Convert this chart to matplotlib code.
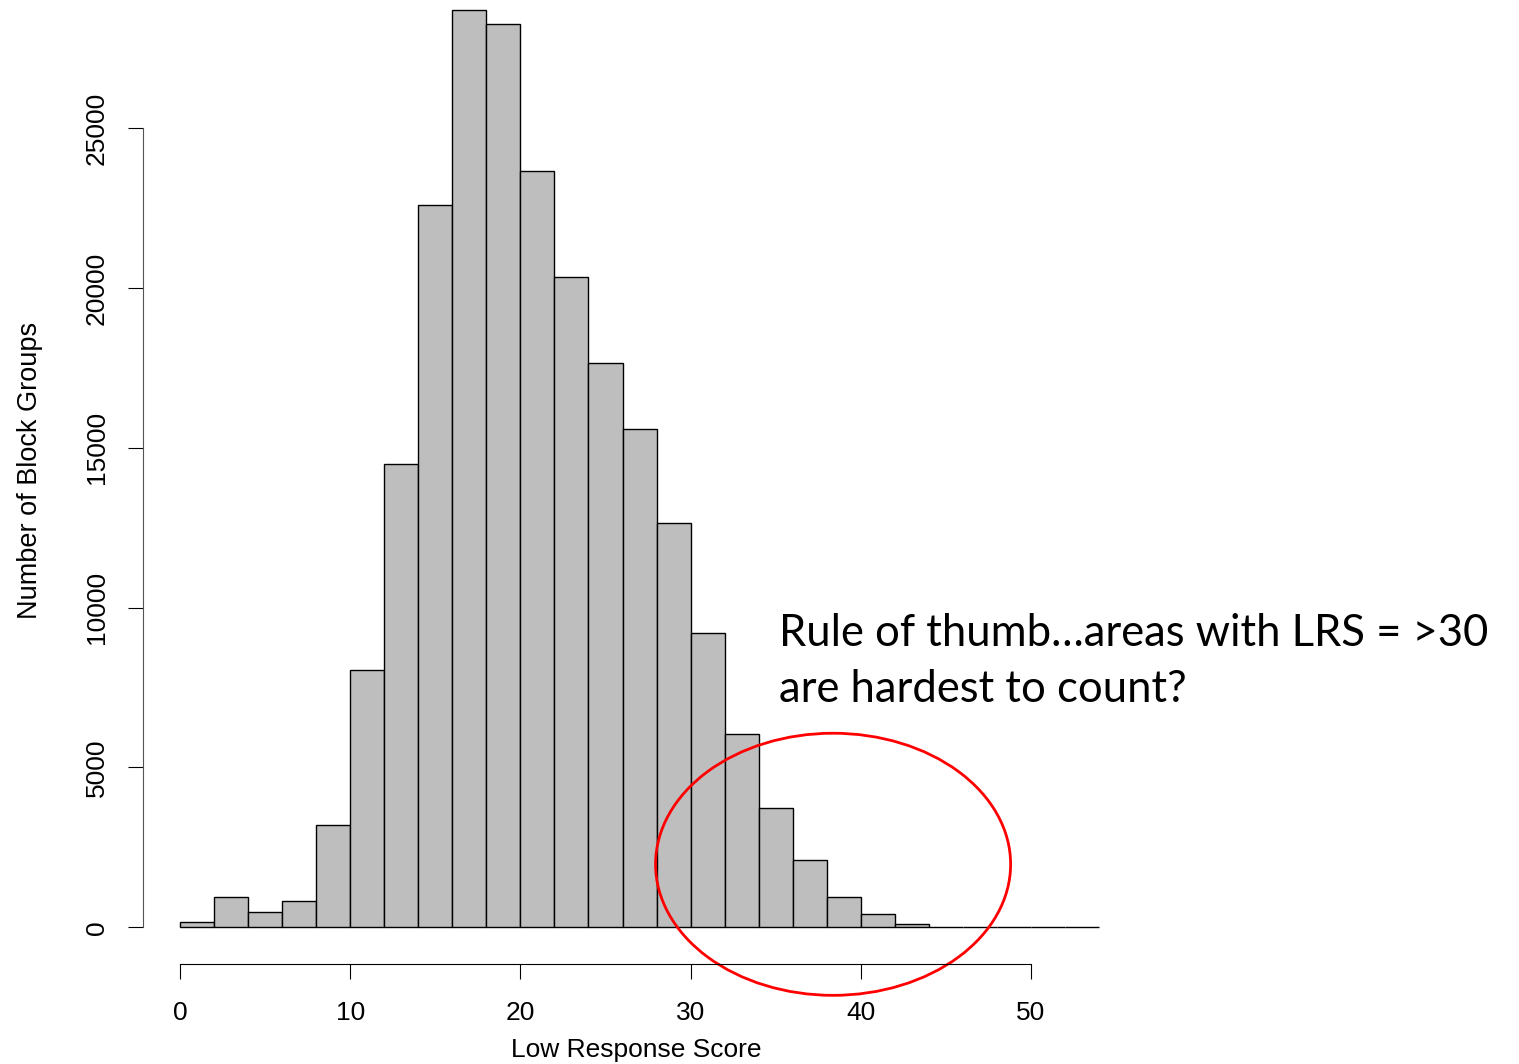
import matplotlib
matplotlib.use('Agg')
import matplotlib.pyplot as plt
import numpy as np
from matplotlib.patches import Ellipse

plt.rcParams['font.family'] = ['Liberation Sans', 'DejaVu Sans']

# histogram of low response scores, bins of width 2
edges = np.arange(0, 56, 2)
counts = [170, 950, 470, 820, 3190, 8040, 14490, 22590, 28690, 28250,
          23650, 20340, 17650, 15580, 12640, 9200, 6040, 3720, 2100, 940,
          410, 100, 0, 0, 0, 0, 0]
xticks = [0, 10, 20, 30, 40, 50]
yticks = [0, 5000, 10000, 15000, 20000, 25000]

note_lines = ['Rule of thumb\u2026areas with LRS = >30', 'are hardest to count?']

fig = plt.figure(figsize=(15.19, 10.64), dpi=100)
ax = fig.add_axes([143.2 / 1519, 100 / 1064, 992.7 / 1519, 964 / 1064])

ax.bar(edges[:-1], counts, width=2, align='edge', color='#bebebe',
       edgecolor='black', linewidth=1.0)

ax.set_xlim(-2.16, 56.16)
ax.set_ylim(-1148, 29005)

for s in ['top', 'right']:
    ax.spines[s].set_visible(False)
ax.spines['bottom'].set_bounds(0, 50)
ax.spines['left'].set_bounds(0, 25000)
ax.spines['left'].set_color('#555555')
ax.set_xticks(xticks)
ax.set_yticks(yticks)
ax.tick_params(axis='both', direction='out', length=10.8, width=0.8,
               labelsize=19)
ax.tick_params(axis='x', pad=16)
ax.tick_params(axis='y', pad=14)
for lab in ax.get_yticklabels():
    lab.set_rotation(90)
    lab.set_va('center')

fig.text(636 / 1519, 1 - 1050 / 1064, 'Low Response Score', ha='center',
         va='center', fontsize=19)
fig.text(30 / 1519, 1 - 470 / 1064, 'Number of Block Groups', ha='center',
         va='center', rotation=90, fontsize=19.5)

ell = Ellipse((38.37, 1971), 20.86, 8198, fill=False, edgecolor='red',
              linewidth=2.0, clip_on=False)
ax.add_patch(ell)

for i, line in enumerate(note_lines):
    fig.text(779 / 1519, 1 - (646 + 56 * i) / 1064, line, ha='left',
             va='baseline', fontsize=31.4, family=['Lato', 'DejaVu Sans'])

fig.savefig('out.png', dpi=100)
